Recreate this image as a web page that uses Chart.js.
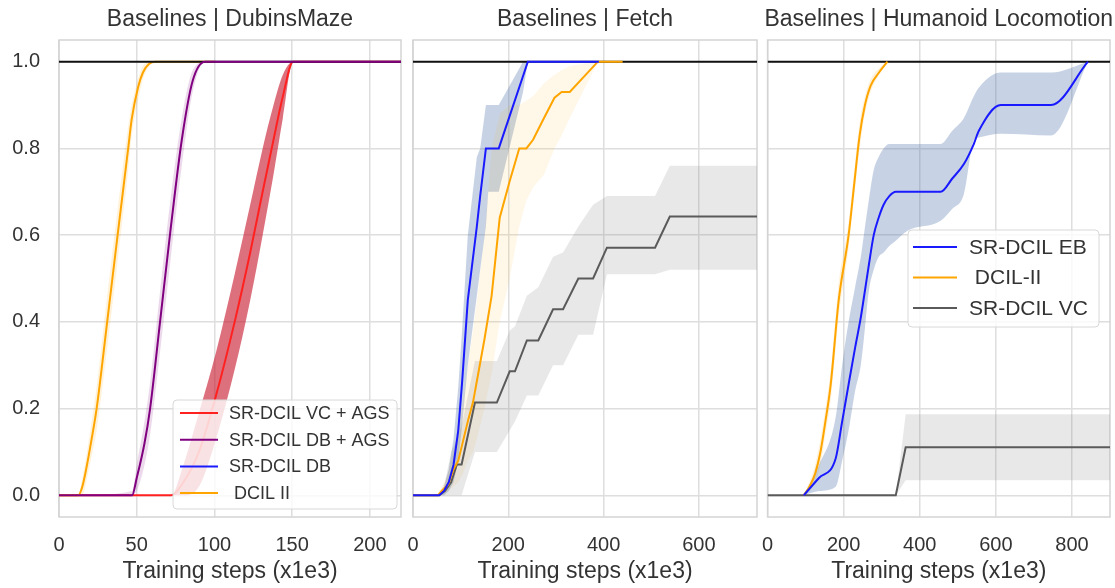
<!DOCTYPE html>
<html>
<head>
<meta charset="utf-8">
<script src="https://cdn.jsdelivr.net/npm/chart.js@4.4.0/dist/chart.umd.min.js"></script>
<style>
  html, body { margin: 0; padding: 0; background: #fff; }
  #wrap { position: relative; width: 1115px; height: 588px; overflow: hidden; }
  canvas { position: absolute; top: 0; }
</style>
</head>
<body>
<div id="wrap">
  <canvas id="c1" width="404" height="588" style="left:0px"></canvas>
  <canvas id="c2" width="356" height="588" style="left:404px"></canvas>
  <canvas id="c3" width="355" height="588" style="left:760px"></canvas>
</div>
<script>
var FONT = '"Liberation Sans", Arial, Helvetica, sans-serif';

// ---------- Baselines | DubinsMaze ----------
var dubinsLabels = ['SR-DCIL VC + AGS', 'SR-DCIL DB + AGS', 'SR-DCIL DB', ' DCIL II'];
var dubinsColors = ['#ff2020', '#800080', '#1a1aff', '#ffa500'];

var dubinsRedX  = [0, 72, 80, 90, 101, 113, 123, 131, 138, 144, 150.6, 220];
var dubinsRed   = [0, 0, 0.03, 0.1, 0.23, 0.4, 0.56, 0.7, 0.82, 0.92, 1.0, 1.0];
var dubinsRedLo = [0, 0, 0, 0.02, 0.13, 0.29, 0.45, 0.6, 0.74, 0.87, 1.0, 1.0];
var dubinsRedHi = [0, 0, 0.07, 0.19, 0.33, 0.51, 0.67, 0.8, 0.9, 0.97, 1.0, 1.0];

var dubinsPurX  = [0, 12, 47, 50, 55, 58.6, 65, 72, 79, 86, 94, 220];
var dubinsPur   = [0, 0, 0, 0.04, 0.12, 0.2, 0.4, 0.62, 0.82, 0.956, 1.0, 1.0];
var dubinsPurLo = [0, 0, 0, 0.01, 0.07, 0.14, 0.33, 0.55, 0.76, 0.93, 1.0, 1.0];
var dubinsPurHi = [0, 0, 0.01, 0.07, 0.17, 0.26, 0.47, 0.69, 0.87, 0.98, 1.0, 1.0];

var dubinsBlueX = [];
var dubinsBlue  = [];

var dubinsOrX  = [0, 12.4, 15, 18, 21, 24.2, 31, 37.7, 44.5, 46.8, 50.8, 54, 58, 62, 100];
var dubinsOr   = [0, 0, 0.02, 0.07, 0.13, 0.2, 0.4, 0.6, 0.8, 0.868, 0.94, 0.975, 0.995, 1.0, 1.0];
var dubinsOrLo = [0, 0, 0, 0.04, 0.09, 0.15, 0.34, 0.54, 0.75, 0.83, 0.91, 0.96, 0.99, 1.0, 1.0];
var dubinsOrHi = [0, 0, 0.04, 0.1, 0.17, 0.25, 0.46, 0.66, 0.85, 0.9, 0.96, 0.99, 1.0, 1.0, 1.0];

// ---------- Baselines | Fetch ----------
var fetchBlueX  = [0, 55, 65, 75, 85, 95, 103, 115, 134, 141, 153, 158, 180, 231, 241, 390];
var fetchBlue   = [0, 0, 0.01, 0.03, 0.07, 0.15, 0.26, 0.45, 0.62, 0.69, 0.8, 0.8, 0.8, 0.967, 1.0, 1.0];
var fetchBlueLo = [0, 0, 0, 0.01, 0.03, 0.08, 0.16, 0.3, 0.46, 0.52, 0.62, 0.7, 0.7, 0.93, 1.0, 1.0];
var fetchBlueHi = [0, 0, 0.02, 0.06, 0.13, 0.25, 0.38, 0.6, 0.78, 0.8, 0.9, 0.9, 0.9, 1.0, 1.0, 1.0];

var fetchOrX  = [0, 52, 60, 74, 85, 95, 105, 115, 126, 134, 150, 165, 182, 203, 223, 238, 252, 275, 297, 312, 329, 388, 440];
var fetchOr   = [0, 0, 0.01, 0.025, 0.06, 0.08, 0.125, 0.17, 0.215, 0.263, 0.36, 0.46, 0.64, 0.725, 0.8, 0.8, 0.82, 0.87, 0.917, 0.93, 0.93, 1.0, 1.0];
var fetchOrLo = [0, 0, 0, 0.01, 0.02, 0.03, 0.05, 0.08, 0.1, 0.13, 0.2, 0.28, 0.4, 0.5, 0.62, 0.68, 0.71, 0.74, 0.8, 0.83, 0.87, 1.0, 1.0];
var fetchOrHi = [0, 0, 0.02, 0.05, 0.1, 0.15, 0.22, 0.3, 0.38, 0.45, 0.6, 0.8, 0.88, 0.9, 0.9, 0.91, 0.92, 0.95, 0.97, 0.98, 0.99, 1.0, 1.0];

var fetchGrayX  = [0, 55, 67, 80, 92, 102, 130, 176, 203, 214, 239, 263, 294, 315, 347, 378, 407, 508, 539, 722];
var fetchGray   = [0, 0, 0.01, 0.03, 0.071, 0.071, 0.214, 0.214, 0.286, 0.286, 0.357, 0.357, 0.429, 0.429, 0.5, 0.5, 0.571, 0.571, 0.643, 0.643];
var fetchGrayLo = [0, 0, 0, 0, 0, 0, 0.1, 0.1, 0.15, 0.17, 0.23, 0.23, 0.3, 0.3, 0.37, 0.37, 0.51, 0.51, 0.52, 0.52];
var fetchGrayHi = [0, 0, 0.03, 0.1, 0.13, 0.16, 0.31, 0.31, 0.38, 0.39, 0.46, 0.48, 0.55, 0.56, 0.62, 0.67, 0.69, 0.69, 0.76, 0.76];

// ---------- Baselines | Humanoid Locomotion ----------
var humLabels = ['SR-DCIL EB', ' DCIL-II', 'SR-DCIL VC'];
var humColors = ['#1a1aff', '#ffa500', '#5a5a5a'];

var humBlueX  = [95, 135, 179, 196, 213, 230, 245, 253, 266, 279, 292, 305, 320, 337, 368, 455, 485, 516, 542, 555, 613, 745, 842];
var humBlue   = [0, 0.04, 0.085, 0.17, 0.256, 0.34, 0.41, 0.455, 0.53, 0.6, 0.64, 0.67, 0.69, 0.7, 0.7, 0.7, 0.73, 0.764, 0.81, 0.84, 0.9, 0.9, 1.0];
var humBlueLo = [0, 0.01, 0.02, 0.08, 0.15, 0.24, 0.3, 0.36, 0.47, 0.52, 0.55, 0.56, 0.575, 0.587, 0.61, 0.633, 0.66, 0.695, 0.818, 0.825, 0.834, 0.83, 1.0];
var humBlueHi = [0, 0.07, 0.18, 0.3, 0.4, 0.48, 0.55, 0.6, 0.68, 0.75, 0.78, 0.8, 0.81, 0.81, 0.81, 0.81, 0.84, 0.87, 0.92, 0.94, 0.975, 0.975, 1.0];

var humOrX  = [95, 110, 125, 139, 152, 166, 187, 213, 228, 242, 256, 271, 293, 315];
var humOr   = [0, 0.02, 0.05, 0.1, 0.17, 0.256, 0.45, 0.6, 0.72, 0.83, 0.9, 0.945, 0.975, 1.0];
var humOrLo = [0, 0.01, 0.03, 0.07, 0.14, 0.22, 0.41, 0.57, 0.69, 0.8, 0.88, 0.93, 0.97, 1.0];
var humOrHi = [0, 0.03, 0.07, 0.13, 0.2, 0.29, 0.49, 0.63, 0.75, 0.86, 0.92, 0.96, 0.985, 1.0];

var humGrayX  = [0, 337, 363, 900];
var humGray   = [0, 0, 0.111, 0.111];
var humGrayLo = [0, 0, 0.035, 0.035];
var humGrayHi = [0, 0, 0.187, 0.187];

// helpers
function pts(xs, ys) {
  return xs.map(function (x, i) { return { x: x, y: ys[i] }; });
}
function line(label, xs, ys, color, order, smooth) {
  return {
    label: label, data: pts(xs, ys), borderColor: color, borderWidth: 2,
    pointRadius: 0, fill: false, order: order, tension: 0,
    cubicInterpolationMode: smooth ? 'monotone' : 'default'
  };
}
function band(xs, lo, hi, color, smooth) {
  var mode = smooth ? 'monotone' : 'default';
  return [
    { data: pts(xs, hi), borderWidth: 0, pointRadius: 0, backgroundColor: color, fill: '+1', order: 20, tension: 0, cubicInterpolationMode: mode },
    { data: pts(xs, lo), borderWidth: 0, pointRadius: 0, fill: false, order: 20, tension: 0, cubicInterpolationMode: mode }
  ];
}
function ref(xMax) {
  return line('', [0, xMax], [1, 1], '#111111', 4, false);
}

// title, frame and in-plot legend
var panelDecor = {
  id: 'panelDecor',
  beforeDatasetsDraw: function (chart) {
    var a = chart.chartArea, ctx = chart.ctx;
    ctx.save();
    ctx.strokeStyle = '#d4d4d4';
    ctx.lineWidth = 1.5;
    ctx.strokeRect(a.left, a.top, a.right - a.left, a.bottom - a.top);
    ctx.restore();
  },
  afterDraw: function (chart, args, opts) {
    var a = chart.chartArea, ctx = chart.ctx;
    ctx.save();
    ctx.fillStyle = '#333';
    ctx.font = '23px ' + FONT;
    ctx.textAlign = 'center';
    ctx.textBaseline = 'middle';
    ctx.fillText(opts.title, (a.left + a.right) / 2, 20);
    var L = opts.legend;
    if (L) {
      ctx.beginPath();
      ctx.roundRect(L.x, L.y, L.w, L.h, 4);
      ctx.fillStyle = 'rgba(255,255,255,0.8)';
      ctx.fill();
      ctx.strokeStyle = '#d8d8d8';
      ctx.lineWidth = 1;
      ctx.stroke();
      ctx.font = L.size + 'px ' + FONT;
      ctx.textAlign = 'left';
      L.labels.forEach(function (lab, i) {
        var y = L.row0 + i * L.gap;
        ctx.strokeStyle = L.colors[i];
        ctx.lineWidth = 2;
        ctx.beginPath();
        ctx.moveTo(L.lx0, y);
        ctx.lineTo(L.lx1, y);
        ctx.stroke();
        ctx.fillStyle = '#333';
        ctx.fillText(lab, L.tx, y + 1);
      });
    }
    ctx.restore();
  }
};

function makeOptions(xMax, xStep, showY, yWidth, padRight, decor) {
  var tickFont = { family: FONT, size: 20 };
  return {
    responsive: false, animation: false, devicePixelRatio: 1,
    layout: { padding: { top: 40, right: padRight, left: 0, bottom: 0 } },
    plugins: {
      legend: { display: false }, tooltip: { enabled: false }, title: { display: false },
      panelDecor: decor
    },
    scales: {
      x: {
        type: 'linear', min: 0, max: xMax,
        afterFit: function (s) { s.height = 71; },
        ticks: { stepSize: xStep, includeBounds: false, padding: 2, maxRotation: 0, autoSkip: false, color: '#333', font: tickFont },
        grid: { color: '#dedede', lineWidth: 1.5, drawTicks: true, tickLength: 14, tickColor: 'rgba(0,0,0,0)' },
        border: { display: false },
        title: { display: true, text: 'Training steps (x1e3)', color: '#333', font: { family: FONT, size: 23 }, padding: { top: 4, bottom: 3 } }
      },
      y: {
        type: 'linear', min: -0.05, max: 1.05,
        afterFit: function (s) { s.width = yWidth; },
        ticks: {
          display: showY, stepSize: 0.2, includeBounds: false, padding: 19, color: '#333', font: tickFont,
          callback: function (v) { return v.toFixed(1); }
        },
        grid: { color: '#dedede', lineWidth: 1.5, drawTicks: false },
        border: { display: false }
      }
    }
  };
}

// DubinsMaze
new Chart(document.getElementById('c1'), {
  type: 'line',
  data: {
    datasets: [].concat(
      band(dubinsRedX, dubinsRedLo, dubinsRedHi, 'rgba(200,25,45,0.62)', true),
      band(dubinsPurX, dubinsPurLo, dubinsPurHi, 'rgba(128,0,128,0.15)', true),
      band(dubinsOrX, dubinsOrLo, dubinsOrHi, 'rgba(255,165,0,0.15)', true),
      [
        line(dubinsLabels[0], dubinsRedX, dubinsRed, dubinsColors[0], 6, true),
        line(dubinsLabels[3], dubinsOrX, dubinsOr, dubinsColors[3], 5, true),
        ref(220),
        line(dubinsLabels[2], dubinsBlueX, dubinsBlue, dubinsColors[2], 3, true),
        line(dubinsLabels[1], dubinsPurX, dubinsPur, dubinsColors[1], 2, true)
      ]
    )
  },
  options: makeOptions(220, 50, true, 59, 3, {
    title: 'Baselines | DubinsMaze',
    legend: { x: 173, y: 400, w: 224, h: 109, size: 18, row0: 413, gap: 26.7, lx0: 180, lx1: 218, tx: 229, labels: dubinsLabels, colors: dubinsColors }
  }),
  plugins: [panelDecor]
});

// Fetch
new Chart(document.getElementById('c2'), {
  type: 'line',
  data: {
    datasets: [].concat(
      band(fetchGrayX, fetchGrayLo, fetchGrayHi, 'rgba(120,120,120,0.17)', false),
      band(fetchOrX, fetchOrLo, fetchOrHi, 'rgba(255,165,0,0.09)', false),
      band(fetchBlueX, fetchBlueLo, fetchBlueHi, 'rgba(70,110,170,0.3)', false),
      [
        line(humLabels[2], fetchGrayX, fetchGray, humColors[2], 6, false),
        ref(722),
        line(humLabels[1], fetchOrX, fetchOr, humColors[1], 3, false),
        line(humLabels[0], fetchBlueX, fetchBlue, humColors[0], 2, false)
      ]
    )
  },
  options: makeOptions(722, 200, false, 9, 3, { title: 'Baselines | Fetch' }),
  plugins: [panelDecor]
});

// Humanoid Locomotion
new Chart(document.getElementById('c3'), {
  type: 'line',
  data: {
    datasets: [].concat(
      band(humGrayX, humGrayLo, humGrayHi, 'rgba(120,120,120,0.17)', false),
      band(humBlueX, humBlueLo, humBlueHi, 'rgba(70,110,170,0.3)', true),
      band(humOrX, humOrLo, humOrHi, 'rgba(255,165,0,0.15)', true),
      [
        line(humLabels[2], humGrayX, humGray, humColors[2], 6, false),
        ref(900),
        line(humLabels[1], humOrX, humOr, humColors[1], 3, true),
        line(humLabels[0], humBlueX, humBlue, humColors[0], 2, true)
      ]
    )
  },
  options: makeOptions(900, 200, false, 7, 5, {
    title: 'Baselines | Humanoid Locomotion',
    legend: { x: 148, y: 230, w: 191, h: 97, size: 21, row0: 247, gap: 30.5, lx0: 153, lx1: 197, tx: 209, labels: humLabels, colors: humColors }
  }),
  plugins: [panelDecor]
});
</script>
</body>
</html>
